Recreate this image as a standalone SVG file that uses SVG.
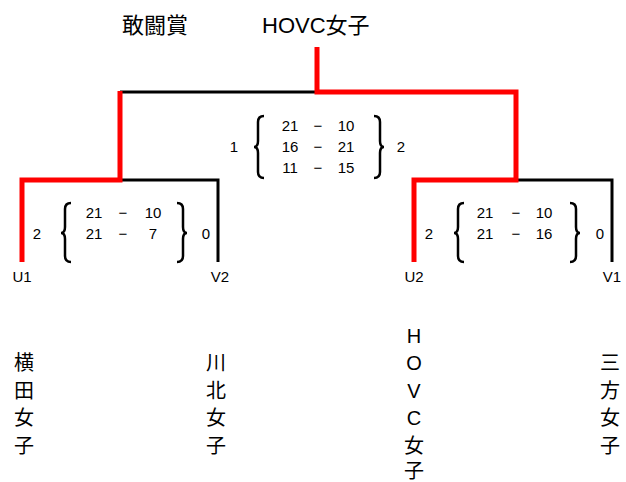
<svg xmlns="http://www.w3.org/2000/svg" width="626" height="482" viewBox="0 0 626 482">
<style>
text{font-family:"Liberation Sans","Noto Sans CJK JP",sans-serif;fill:#000}
.t{font-size:22px}
.s{font-size:15px;text-anchor:middle}
.l{font-size:15px;text-anchor:middle}
.n{font-size:20px;text-anchor:middle}
.r{stroke:#f00;stroke-width:5;fill:none}
.b{stroke:#000;stroke-width:3;fill:none}
.br{stroke:#000;stroke-width:2.5;fill:none}
</style>
<rect width="626" height="482" fill="#fff"/>
<g id="titles">
<text class="t" x="122" y="33">敢闘賞</text>
<text class="t" x="262" y="33">HOVC女子</text>
</g>
<g id="connectors">
<path class="b" d="M120 92 H317 M120 180 H218 V262 M516 180 H612 V262"/>
<path class="r" d="M317 47 V92 H516 V180 H414 V262"/>
<path class="r" d="M120 91 V180 H22 V262"/>
</g>
<g id="final-score">
<text class="s" x="234" y="152">1</text>
<path class="br" d="M264 116 Q258 116 258 122 L258 141 Q258 147 254 147 Q258 147 258 153 L258 172 Q258 178 264 178"/>
<text class="s" x="290" y="131">21</text><text class="s" x="318" y="131">−</text><text class="s" x="346" y="131">10</text>
<text class="s" x="290" y="152">16</text><text class="s" x="318" y="152">−</text><text class="s" x="346" y="152">21</text>
<text class="s" x="290" y="173">11</text><text class="s" x="318" y="173">−</text><text class="s" x="346" y="173">15</text>
<path class="br" d="M374 116 Q380 116 380 122 L380 141 Q380 147 384 147 Q380 147 380 153 L380 172 Q380 178 374 178"/>
<text class="s" x="401" y="152">2</text>
</g>
<g id="left-score">
<text class="s" x="37" y="239">2</text>
<path class="br" d="M71 203 Q65 203 65 209 L65 227 Q65 233 61 233 Q65 233 65 239 L65 256 Q65 262 71 262"/>
<text class="s" x="94" y="218">21</text><text class="s" x="123" y="218">−</text><text class="s" x="153" y="218">10</text>
<text class="s" x="94" y="239">21</text><text class="s" x="123" y="239">−</text><text class="s" x="153" y="239">7</text>
<path class="br" d="M177 203 Q183 203 183 209 L183 227 Q183 233 187 233 Q183 233 183 239 L183 256 Q183 262 177 262"/>
<text class="s" x="206" y="239">0</text>
</g>
<g id="right-score">
<text class="s" x="429" y="239">2</text>
<path class="br" d="M464 203 Q458 203 458 209 L458 227 Q458 233 454 233 Q458 233 458 239 L458 256 Q458 262 464 262"/>
<text class="s" x="485" y="218">21</text><text class="s" x="516" y="218">−</text><text class="s" x="544" y="218">10</text>
<text class="s" x="485" y="239">21</text><text class="s" x="516" y="239">−</text><text class="s" x="544" y="239">16</text>
<path class="br" d="M570 203 Q576 203 576 209 L576 227 Q576 233 580 233 Q576 233 576 239 L576 256 Q576 262 570 262"/>
<text class="s" x="600" y="239">0</text>
</g>
<g id="labels">
<text class="l" x="22" y="282">U1</text>
<text class="l" x="220" y="282">V2</text>
<text class="l" x="414" y="282">U2</text>
<text class="l" x="612" y="282">V1</text>
</g>
<g id="team-yokota">
<text class="n" x="24" y="370">横</text><text class="n" x="24" y="398">田</text><text class="n" x="24" y="425">女</text><text class="n" x="24" y="453">子</text>
</g>
<g id="team-kawakita">
<text class="n" x="216" y="370">川</text><text class="n" x="216" y="398">北</text><text class="n" x="216" y="425">女</text><text class="n" x="216" y="453">子</text>
</g>
<g id="team-hovc">
<text class="n" x="414" y="343">H</text><text class="n" x="414" y="370">O</text><text class="n" x="414" y="398">V</text><text class="n" x="414" y="425">C</text><text class="n" x="414" y="453">女</text><text class="n" x="414" y="478">子</text>
</g>
<g id="team-mikata">
<text class="n" x="610" y="370">三</text><text class="n" x="610" y="398">方</text><text class="n" x="610" y="425">女</text><text class="n" x="610" y="453">子</text>
</g>
</svg>
